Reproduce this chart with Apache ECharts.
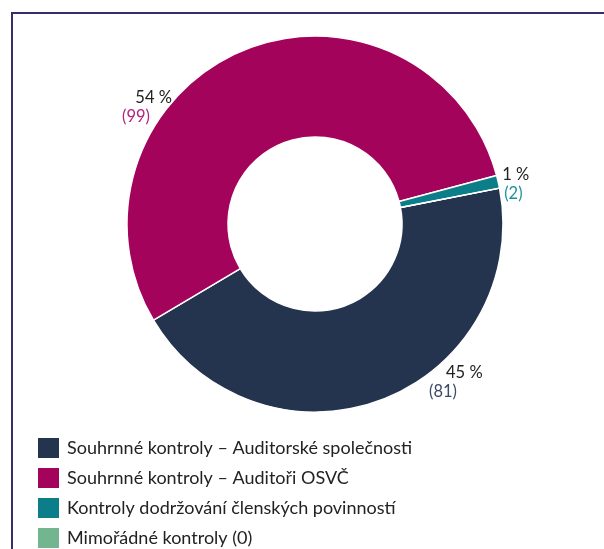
<!DOCTYPE html>
<html>
<head>
<meta charset="utf-8">
<title>Kontroly</title>
<script src="https://cdn.jsdelivr.net/npm/echarts@6/dist/echarts.min.js"></script>
<style>
  body { margin: 0; background: #fff; }
  #frame { position: absolute; left: 11px; top: 12px; right: 0; bottom: 0;
           border-left: 2.5px solid #342f6c; border-top: 2.5px solid #342f6c; }
  #main { position: absolute; left: 0; top: 0; width: 604px; height: 549px; }
</style>
</head>
<body>
<div id="frame"></div>
<div id="main"></div>
<script>
  var categories = [
    'Souhrnné kontroly – Auditorské společnosti',
    'Souhrnné kontroly – Auditoři OSVČ',
    'Kontroly dodržování členských povinností',
    'Mimořádné kontroly (0)'
  ];
  var values = [81, 99, 2, 0];
  var colors = ['#25344e', '#a3035a', '#0b7e8a', '#72b690'];
  var countColors = ['#3b4a68', '#b4257a', '#1b90a0', '#72b690'];

  var font = 'Lato, "Open Sans", sans-serif';

  // posun popisku [dx, dy]
  var labelShift = [[42, -17], [-65, 56], [-1, 2]];

  var myChart = echarts.init(document.getElementById('main'));

  var seriesData = values.map(function (v, i) {
    return {
      name: categories[i],
      value: v,
      itemStyle: { color: colors[i] },
      label: { show: v > 0 }
    };
  });

  var option = {
    animation: false,
    legend: {
      orient: 'vertical',
      left: 36,
      top: 436,
      height: 120,
      padding: 0,
      icon: 'rect',
      itemWidth: 23,
      itemHeight: 22,
      itemGap: 6,
      selectedMode: false,
      data: categories,
      textStyle: { fontFamily: font, fontSize: 18, color: '#222', padding: [0, 0, 0, 2] }
    },
    series: [{
      type: 'pie',
      center: [315, 224],
      radius: [87, 188],
      startAngle: 11,
      percentPrecision: 0,
      data: seriesData,
      itemStyle: { borderColor: '#fff', borderWidth: 1.5 },
      label: {
        position: 'outside',
        fontFamily: font,
        formatter: function (p) {
          return '{p' + p.dataIndex + '|' + p.percent + ' %}\n{v' + p.dataIndex + '|(' + p.value + ')}';
        },
        rich: {
          p0: { fontFamily: font, fontSize: 16.5, color: '#222', lineHeight: 19, padding: [0, 0, 0, 17] },
          v0: { fontFamily: font, fontSize: 16.5, color: countColors[0], lineHeight: 19 },
          p1: { fontFamily: font, fontSize: 16.5, color: '#222', lineHeight: 19 },
          v1: { fontFamily: font, fontSize: 16.5, color: countColors[1], lineHeight: 19, padding: [0, 22, 0, 0] },
          p2: { fontFamily: font, fontSize: 16.5, color: '#222', lineHeight: 19 },
          v2: { fontFamily: font, fontSize: 16.5, color: countColors[2], lineHeight: 19, padding: [0, 0, 0, 2] }
        }
      },
      labelLine: { show: false, length: 0, length2: 0 },
      labelLayout: function (params) {
        var s = labelShift[params.dataIndex] || [0, 0];
        return { dx: s[0], dy: s[1] };
      }
    }]
  };

  myChart.setOption(option);
</script>
</body>
</html>
